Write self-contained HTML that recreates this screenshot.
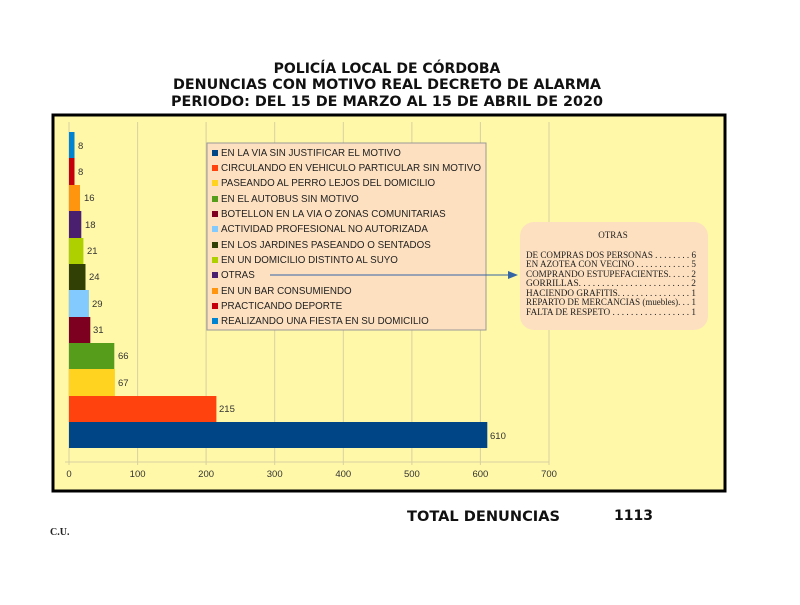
<!DOCTYPE html>
<html><head><meta charset="utf-8"><style>
body{margin:0;background:#fff;width:800px;height:600px;overflow:hidden;font-family:"Liberation Sans",sans-serif}
</style></head><body>
<svg width="800" height="600" xmlns="http://www.w3.org/2000/svg" font-family="Liberation Sans, sans-serif">
<g font-family="DejaVu Sans, sans-serif" font-weight="bold" font-size="14" text-anchor="middle" fill="#111">
<text x="387" y="73">POLICÍA LOCAL DE CÓRDOBA</text>
<text x="387" y="89" textLength="428" lengthAdjust="spacingAndGlyphs">DENUNCIAS CON MOTIVO REAL DECRETO DE ALARMA</text>
<text x="387" y="106" textLength="432" lengthAdjust="spacingAndGlyphs">PERIODO: DEL 15 DE MARZO AL 15 DE ABRIL DE 2020</text>
</g>
<rect x="53" y="115" width="672" height="376" fill="#fff8a8" stroke="#000" stroke-width="3"/>
<g stroke="#d8d0a0" stroke-width="1">
<line x1="69" y1="122" x2="69" y2="465"/><line x1="137.6" y1="122" x2="137.6" y2="465"/><line x1="206.1" y1="122" x2="206.1" y2="465"/><line x1="274.7" y1="122" x2="274.7" y2="465"/><line x1="343.3" y1="122" x2="343.3" y2="465"/><line x1="411.9" y1="122" x2="411.9" y2="465"/><line x1="480.4" y1="122" x2="480.4" y2="465"/><line x1="549" y1="122" x2="549" y2="465"/>
<line x1="65" y1="462" x2="549" y2="462"/>
</g>
<g>
<rect x="69" y="422" width="418.3" height="26" fill="#004586"/>
<rect x="69" y="396" width="147.4" height="26" fill="#ff420e"/>
<rect x="69" y="369" width="45.9" height="27" fill="#ffd320"/>
<rect x="69" y="343" width="45.3" height="26" fill="#579d1c"/>
<rect x="69" y="317" width="21.3" height="26" fill="#7e0021"/>
<rect x="69" y="290" width="19.9" height="27" fill="#83caff"/>
<rect x="69" y="264" width="16.5" height="26" fill="#314004"/>
<rect x="69" y="238" width="14.4" height="26" fill="#aecf00"/>
<rect x="69" y="211" width="12.3" height="27" fill="#4b1f6f"/>
<rect x="69" y="185" width="11" height="26" fill="#ff950e"/>
<rect x="69" y="158" width="5.5" height="27" fill="#c5000b"/>
<rect x="69" y="132" width="5.5" height="26" fill="#0084d1"/>
</g>
<g font-size="9.5" fill="#333">
<text x="490" y="439">610</text><text x="219" y="412">215</text><text x="118" y="386">67</text><text x="118" y="359">66</text>
<text x="93" y="333">31</text><text x="92" y="307">29</text><text x="89" y="280">24</text><text x="87" y="254">21</text>
<text x="85" y="228">18</text><text x="84" y="201">16</text><text x="78" y="175">8</text><text x="78" y="149">8</text>
</g>
<g font-size="9.5" fill="#333" text-anchor="middle">
<text x="69" y="477">0</text><text x="137.6" y="477">100</text><text x="206.1" y="477">200</text><text x="274.7" y="477">300</text><text x="343.3" y="477">400</text><text x="411.9" y="477">500</text><text x="480.4" y="477">600</text><text x="549" y="477">700</text>
</g>
<rect x="207" y="143" width="279" height="187" fill="#fde0c0" stroke="#999" stroke-width="1"/>
<g font-size="9.8" fill="#222">
<rect x="212" y="150" width="6" height="6" fill="#004586"/><text x="221" y="156">EN LA VIA SIN JUSTIFICAR EL MOTIVO</text>
<rect x="212" y="165" width="6" height="6" fill="#ff420e"/><text x="221" y="171" textLength="260" lengthAdjust="spacingAndGlyphs">CIRCULANDO EN VEHICULO PARTICULAR SIN MOTIVO</text>
<rect x="212" y="180" width="6" height="6" fill="#ffd320"/><text x="221" y="186">PASEANDO AL PERRO LEJOS DEL DOMICILIO</text>
<rect x="212" y="196" width="6" height="6" fill="#579d1c"/><text x="221" y="202">EN EL AUTOBUS SIN MOTIVO</text>
<rect x="212" y="211" width="6" height="6" fill="#7e0021"/><text x="221" y="217">BOTELLON EN LA VIA O ZONAS COMUNITARIAS</text>
<rect x="212" y="226" width="6" height="6" fill="#83caff"/><text x="221" y="232">ACTIVIDAD PROFESIONAL NO AUTORIZADA</text>
<rect x="212" y="242" width="6" height="6" fill="#314004"/><text x="221" y="248">EN LOS JARDINES PASEANDO O SENTADOS</text>
<rect x="212" y="257" width="6" height="6" fill="#aecf00"/><text x="221" y="263">EN UN DOMICILIO DISTINTO AL SUYO</text>
<rect x="212" y="272" width="6" height="6" fill="#4b1f6f"/><text x="221" y="278">OTRAS</text>
<rect x="212" y="288" width="6" height="6" fill="#ff950e"/><text x="221" y="294">EN UN BAR CONSUMIENDO</text>
<rect x="212" y="303" width="6" height="6" fill="#c5000b"/><text x="221" y="309">PRACTICANDO DEPORTE</text>
<rect x="212" y="318" width="6" height="6" fill="#0084d1"/><text x="221" y="324">REALIZANDO UNA FIESTA EN SU DOMICILIO</text>
</g>
<line x1="270" y1="275" x2="510" y2="275" stroke="#3465a4" stroke-width="1"/>
<polygon points="518,275 508,271 508,279" fill="#3465a4"/>
<rect x="520" y="222" width="188" height="108" rx="14" fill="#fde0c0"/>
<g font-family="Liberation Serif, serif" font-size="9" fill="#222">
<text x="613" y="238" text-anchor="middle">OTRAS</text>
<text x="526" y="258" textLength="170" lengthAdjust="spacingAndGlyphs">DE COMPRAS DOS PERSONAS . . . . . . . . 6</text>
<text x="526" y="267" textLength="170" lengthAdjust="spacingAndGlyphs">EN AZOTEA CON VECINO . . . . . . . . . . . . 5</text>
<text x="526" y="277" textLength="170" lengthAdjust="spacingAndGlyphs">COMPRANDO ESTUPEFACIENTES. . . . . 2</text>
<text x="526" y="286" textLength="170" lengthAdjust="spacingAndGlyphs">GORRILLAS. . . . . . . . . . . . . . . . . . . . . . . . 2</text>
<text x="526" y="296" textLength="170" lengthAdjust="spacingAndGlyphs">HACIENDO GRAFITIS. . . . . . . . . . . . . . . . 1</text>
<text x="526" y="305" textLength="170" lengthAdjust="spacingAndGlyphs">REPARTO DE MERCANCIAS (muebles). . . 1</text>
<text x="526" y="315" textLength="170" lengthAdjust="spacingAndGlyphs">FALTA DE RESPETO . . . . . . . . . . . . . . . . . 1</text>
</g>
<g font-family="DejaVu Sans, sans-serif" font-weight="bold" font-size="14" fill="#111">
<text x="407" y="521" textLength="153" lengthAdjust="spacingAndGlyphs">TOTAL DENUNCIAS</text>
<text x="614" y="520">1113</text>
</g>
<text x="50" y="535" font-family="Liberation Serif, serif" font-size="10" font-weight="bold" fill="#222">C.U.</text>
</svg>
</body></html>
